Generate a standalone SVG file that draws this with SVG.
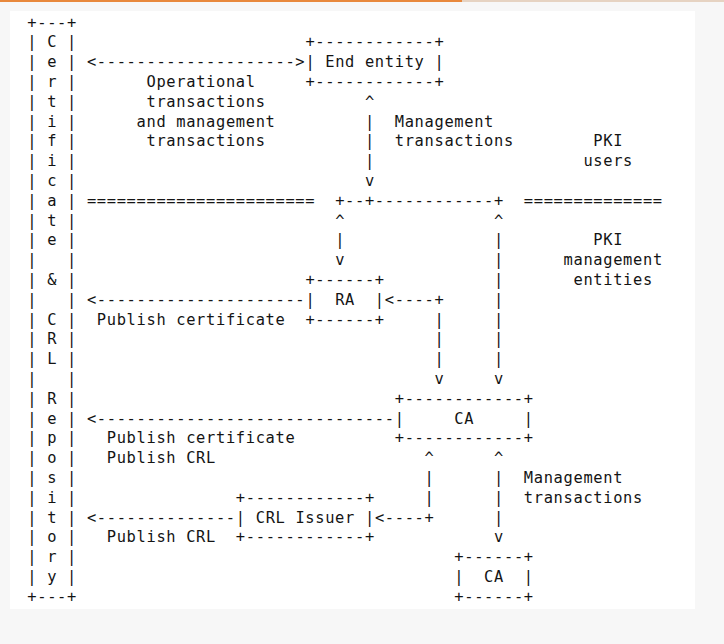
<svg xmlns="http://www.w3.org/2000/svg" width="724" height="644" viewBox="0 0 724 644">
<style>
text{font-family:"DejaVu Sans Mono","Liberation Mono",monospace;font-size:15.4px;letter-spacing:0.66px;fill:#141414;white-space:pre}
</style>
<rect x="0" y="0" width="724" height="644" fill="#f7f7f7"/>
<rect x="0" y="0" width="724" height="2" fill="#e6d3c2"/>
<rect x="0" y="0" width="462" height="2" fill="#e8883c"/>
<rect x="10" y="11" width="685" height="598" fill="#ffffff"/>

<g id="repository">
<text x="27.34" xml:space="preserve"><tspan x="27.34" y="27.5">+---+</tspan><tspan x="27.34" y="47.3">| C |</tspan><tspan x="27.34" y="67.1">| e |</tspan><tspan x="27.34" y="86.9">| r |</tspan><tspan x="27.34" y="106.7">| t |</tspan><tspan x="27.34" y="126.5">| i |</tspan><tspan x="27.34" y="146.3">| f |</tspan><tspan x="27.34" y="166.1">| i |</tspan><tspan x="27.34" y="185.9">| c |</tspan><tspan x="27.34" y="205.7">| a |</tspan><tspan x="27.34" y="225.5">| t |</tspan><tspan x="27.34" y="245.3">| e |</tspan><tspan x="27.34" y="265.1">|   |</tspan><tspan x="27.34" y="284.9">| &amp; |</tspan><tspan x="27.34" y="304.7">|   |</tspan><tspan x="27.34" y="324.5">| C |</tspan><tspan x="27.34" y="344.3">| R |</tspan><tspan x="27.34" y="364.1">| L |</tspan><tspan x="27.34" y="383.9">|   |</tspan><tspan x="27.34" y="403.7">| R |</tspan><tspan x="27.34" y="423.5">| e |</tspan><tspan x="27.34" y="443.3">| p |</tspan><tspan x="27.34" y="463.1">| o |</tspan><tspan x="27.34" y="482.9">| s |</tspan><tspan x="27.34" y="502.7">| i |</tspan><tspan x="27.34" y="522.5">| t |</tspan><tspan x="27.34" y="542.3">| o |</tspan><tspan x="27.34" y="562.1">| r |</tspan><tspan x="27.34" y="581.9">| y |</tspan><tspan x="27.34" y="601.7">+---+</tspan></text>
</g>

<g id="end-entity">
<text xml:space="preserve"><tspan x="305.38" y="47.3">+------------+</tspan><tspan x="305.38" y="67.1">| End entity |</tspan><tspan x="305.38" y="86.9">+------------+</tspan></text>
</g>

<g id="ra">
<text xml:space="preserve"><tspan x="305.38" y="284.9">+------+</tspan><tspan x="305.38" y="304.7">|  RA  |</tspan><tspan x="305.38" y="324.5">+------+</tspan></text>
</g>

<g id="ca">
<text xml:space="preserve"><tspan x="394.75" y="403.7">+------------+</tspan><tspan x="394.75" y="423.5">|     CA     |</tspan><tspan x="394.75" y="443.3">+------------+</tspan></text>
</g>

<g id="crl-issuer">
<text xml:space="preserve"><tspan x="235.87" y="502.7">+------------+</tspan><tspan x="235.87" y="522.5">| CRL Issuer |</tspan><tspan x="235.87" y="542.3">+------------+</tspan></text>
</g>

<g id="ca-2">
<text xml:space="preserve"><tspan x="454.33" y="562.1">+------+</tspan><tspan x="454.33" y="581.9">|  CA  |</tspan><tspan x="454.33" y="601.7">+------+</tspan></text>
</g>

<g id="connectors">
<text xml:space="preserve"><tspan x="86.92" y="67.1">&lt;--------------------&gt;</tspan></text>
<text xml:space="preserve"><tspan x="364.96" y="106.7">^</tspan><tspan x="364.96" y="126.5">|</tspan><tspan x="364.96" y="146.3">|</tspan><tspan x="364.96" y="166.1">|</tspan><tspan x="364.96" y="185.9">v</tspan></text>
<text xml:space="preserve"><tspan x="335.17" y="205.7">+--+------------+</tspan></text>
<text xml:space="preserve"><tspan x="335.17" y="225.5">^</tspan><tspan x="335.17" y="245.3">|</tspan><tspan x="335.17" y="265.1">v</tspan></text>
<text xml:space="preserve"><tspan x="494.05" y="225.5">^</tspan><tspan x="494.05" y="245.3">|</tspan><tspan x="494.05" y="265.1">|</tspan><tspan x="494.05" y="284.9">|</tspan><tspan x="494.05" y="304.7">|</tspan><tspan x="494.05" y="324.5">|</tspan><tspan x="494.05" y="344.3">|</tspan><tspan x="494.05" y="364.1">|</tspan><tspan x="494.05" y="383.9">v</tspan></text>
<text xml:space="preserve"><tspan x="86.92" y="304.7">&lt;---------------------</tspan></text>
<text xml:space="preserve"><tspan x="384.82" y="304.7">&lt;----+</tspan><tspan x="434.47" y="324.5">|</tspan><tspan x="434.47" y="344.3">|</tspan><tspan x="434.47" y="364.1">|</tspan><tspan x="434.47" y="383.9">v</tspan></text>
<text xml:space="preserve"><tspan x="86.92" y="423.5">&lt;------------------------------</tspan></text>
<text xml:space="preserve"><tspan x="424.54" y="463.1">^</tspan><tspan x="424.54" y="482.9">|</tspan><tspan x="424.54" y="502.7">|</tspan><tspan x="374.89" y="522.5">&lt;----+</tspan></text>
<text xml:space="preserve"><tspan x="494.05" y="463.1">^</tspan><tspan x="494.05" y="482.9">|</tspan><tspan x="494.05" y="502.7">|</tspan><tspan x="494.05" y="522.5">|</tspan><tspan x="494.05" y="542.3">v</tspan></text>
<text xml:space="preserve"><tspan x="86.92" y="522.5">&lt;--------------</tspan></text>
</g>

<g id="separators">
<text xml:space="preserve"><tspan x="86.92" y="205.7">=======================</tspan><tspan x="523.84" y="205.7">==============</tspan></text>
</g>

<g id="labels">
<text xml:space="preserve"><tspan x="146.50" y="86.9">Operational</tspan><tspan x="146.50" y="106.7">transactions</tspan><tspan x="136.57" y="126.5">and management</tspan><tspan x="146.50" y="146.3">transactions</tspan></text>
<text xml:space="preserve"><tspan x="394.75" y="126.5">Management</tspan><tspan x="394.75" y="146.3">transactions</tspan></text>
<text xml:space="preserve"><tspan x="593.35" y="146.3">PKI</tspan><tspan x="583.42" y="166.1">users</tspan></text>
<text xml:space="preserve"><tspan x="593.35" y="245.3">PKI</tspan><tspan x="563.56" y="265.1">management</tspan><tspan x="573.49" y="284.9">entities</tspan></text>
<text xml:space="preserve"><tspan x="96.85" y="324.5">Publish certificate</tspan></text>
<text xml:space="preserve"><tspan x="106.78" y="443.3">Publish certificate</tspan><tspan x="106.78" y="463.1">Publish CRL</tspan></text>
<text xml:space="preserve"><tspan x="523.84" y="482.9">Management</tspan><tspan x="523.84" y="502.7">transactions</tspan></text>
<text xml:space="preserve"><tspan x="106.78" y="542.3">Publish CRL</tspan></text>
</g>
</svg>
